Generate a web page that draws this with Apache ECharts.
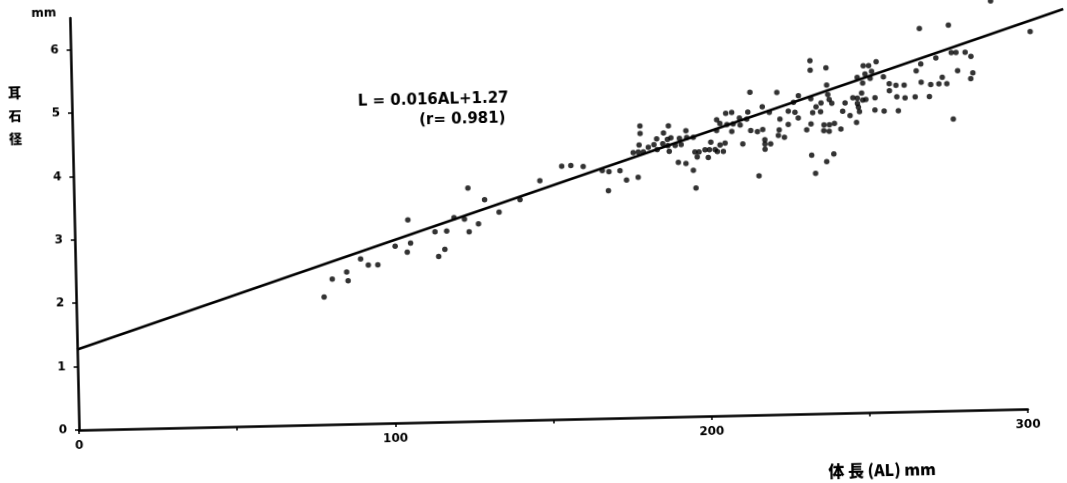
<!DOCTYPE html>
<html>
<head>
<meta charset="utf-8">
<script src="https://cdn.jsdelivr.net/npm/echarts@6/dist/echarts.min.js"></script>
<style>
  html, body { margin: 0; padding: 0; background: #fff; overflow: hidden; width: 1067px; height: 483px; }
  /* the printed figure sits slightly askew on the page */
  #chart { position: absolute; left: 0; top: 0; width: 1110px; height: 500px;
           transform: rotate(-1.27deg); transform-origin: 79px 430px; }
</style>
</head>
<body>
<div id="chart"></div>
<script>
// Body length AL (mm) of each fish
const bodyLength = [
  78.4, 81.1, 85.7, 86.1, 90.2, 92.6, 95.6, 101.2, 105.4, 105.0,
  106.1, 113.9, 114.9, 116.9, 117.6, 120.0, 123.3, 124.6, 124.7, 127.7,
  129.8, 134.3, 141.0, 147.4, 154.4, 157.3, 161.2, 167.2, 169.3, 172.8,
  169.0, 174.8, 178.5, 177.1, 178.7, 180.3, 179.4, 179.4, 179.0, 181.9,
  183.7, 184.6, 184.7, 186.5, 186.8, 188.4, 188.0, 189.1, 188.1, 190.4,
  188.5, 191.8, 192.3, 193.9, 194.1, 196.2, 191.3, 193.7, 196.0, 196.7,
  196.6, 197.9, 197.3, 199.8, 201.2, 200.8, 203.0, 203.7, 205.6, 204.6,
  206.2, 201.7, 203.6, 203.7, 204.7, 206.6, 208.5, 206.9, 208.9, 210.9,
  213.6, 213.2, 211.1, 211.8, 208.4, 233.6, 233.6, 238.6, 238.7, 214.4,
  222.9, 229.7, 228.1, 233.6, 239.0, 239.4, 218.2, 220.4, 226.4, 228.5,
  223.7, 229.5, 234.1, 236.6, 235.2, 236.8, 240.2, 226.3, 233.5, 232.1,
  237.6, 239.3, 240.9, 237.5, 239.2, 242.9, 214.4, 216.5, 218.2, 223.4,
  223.1, 225.0, 218.8, 218.8, 218.8, 220.6, 233.5, 240.5, 238.2, 216.7,
  234.6, 245.9, 243.6, 244.4, 246.9, 248.3, 248.3, 248.6, 248.9, 247.9,
  250.0, 251.0, 253.9, 253.8, 256.7, 249.7, 250.1, 248.4, 250.9, 252.5,
  253.0, 250.4, 252.1, 254.5, 256.7, 268.4, 277.6, 278.3, 279.8, 282.7,
  284.5, 273.4, 268.6, 267.1, 258.5, 260.6, 263.2, 258.5, 260.8, 263.4,
  266.6, 271.1, 268.6, 271.6, 274.2, 275.3, 276.7, 280.2, 285.0, 284.3,
  261.2, 278.5, 291.1, 303.4
];

// Otolith diameter L (mm) of the same fish
const otolithDiameter = [
  2.01, 2.29, 2.40, 2.26, 2.60, 2.50, 2.50, 2.79, 3.20, 2.69,
  2.83, 3.00, 2.61, 2.72, 3.01, 3.22, 3.19, 3.68, 2.99, 3.11,
  3.49, 3.29, 3.48, 3.77, 3.99, 4.00, 3.98, 3.91, 3.89, 3.90,
  3.59, 3.75, 3.79, 4.18, 4.19, 4.19, 4.60, 4.48, 4.30, 4.26,
  4.30, 4.39, 4.22, 4.31, 4.48, 4.59, 4.38, 4.40, 4.28, 4.28,
  4.19, 4.39, 4.29, 4.51, 4.40, 4.40, 4.01, 3.99, 3.88, 3.60,
  4.17, 4.17, 4.09, 4.20, 4.20, 4.08, 4.20, 4.17, 4.17, 4.27,
  4.30, 4.32, 4.50, 4.67, 4.61, 4.77, 4.78, 4.59, 4.60, 4.69,
  4.78, 4.67, 4.58, 4.28, 4.48, 5.57, 5.42, 5.45, 5.18, 5.09,
  5.08, 5.02, 4.92, 4.97, 5.03, 4.95, 4.86, 4.77, 4.78, 4.76,
  4.66, 4.67, 4.75, 4.76, 4.84, 4.90, 4.89, 4.57, 4.57, 4.48,
  4.55, 4.55, 4.57, 4.46, 4.45, 4.48, 4.49, 4.47, 4.50, 4.49,
  4.40, 4.37, 4.34, 4.27, 4.19, 4.27, 4.08, 4.09, 3.97, 3.77,
  3.79, 4.69, 4.76, 4.89, 4.97, 4.96, 4.88, 4.82, 4.75, 4.58,
  4.93, 4.94, 4.96, 4.77, 4.75, 5.04, 5.20, 5.29, 5.34, 5.27,
  5.38, 5.47, 5.47, 5.53, 5.29, 6.04, 6.08, 5.65, 5.65, 5.65,
  5.58, 5.57, 5.48, 5.37, 5.18, 5.15, 5.15, 5.07, 4.97, 4.95,
  4.96, 4.96, 5.19, 5.15, 5.16, 5.26, 5.16, 5.36, 5.32, 5.23,
  4.75, 4.60, 6.45, 5.95
];

// Axis ticks and labels
const xTickValues = [0, 50, 100, 150, 200, 250, 300];
const xLabelValues = [0, 100, 200, 300];
const yTickValues = [0, 1, 2, 3, 4, 5, 6];

// Regression L = a·AL + b and its correlation coefficient
const slope = 0.016;
const intercept = 1.27;
const correlation = 0.981;
const fitRange = [0, 314];

const points = bodyLength.map((x, i) => [x, otolithDiameter[i]]);
// one segment: [x0, y0, x1, y1] of the fitted line, drawn past the axis end
const fitSegment = [[fitRange[0], slope * fitRange[0] + intercept,
                     fitRange[1], slope * fitRange[1] + intercept]];

const labelFont = 'DejaVu Sans';
const cjkFont = '"Noto Sans CJK JP", "Noto Sans CJK SC", sans-serif';

const chart = echarts.init(document.getElementById('chart'), null, { renderer: 'canvas' });
chart.setOption({
  animation: false,
  backgroundColor: '#fff',
  grid: { left: 79, right: 82, top: 18, bottom: 70, containLabel: false },
  xAxis: {
    type: 'value', min: 0, max: 300, interval: 50,
    splitLine: { show: false },
    axisLine: { lineStyle: { color: '#000', width: 2.5 } },
    axisTick: { show: true, length: 4, lineStyle: { color: '#000', width: 1.5 },
                customValues: xTickValues },
    axisLabel: { customValues: xLabelValues, margin: 10, color: '#000',
                 fontFamily: labelFont, fontWeight: 'bold', fontSize: 12 }
  },
  yAxis: {
    type: 'value', min: 0, max: 6.5, interval: 1,
    splitLine: { show: false },
    axisLine: { lineStyle: { color: '#000', width: 2.5 } },
    axisTick: { show: true, length: 4, lineStyle: { color: '#000', width: 1.5 },
                customValues: yTickValues },
    axisLabel: { customValues: yTickValues, margin: 12, color: '#000',
                 fontFamily: labelFont, fontWeight: 'bold', fontSize: 12 }
  },
  series: [
    {
      type: 'custom', data: fitSegment, clip: false, silent: true, z: 2,
      encode: { x: [0, 2], y: [1, 3] },
      renderItem: function (params, api) {
        const p0 = api.coord([api.value(0), api.value(1)]);
        const p1 = api.coord([api.value(2), api.value(3)]);
        return {
          type: 'line',
          shape: { x1: p0[0], y1: p0[1], x2: p1[0], y2: p1[1] },
          style: { stroke: '#000', lineWidth: 2.5 }
        };
      }
    },
    {
      type: 'scatter', data: points, symbol: 'circle', symbolSize: 5.5, clip: false,
      itemStyle: { color: '#000' }, z: 3
    }
  ],
  graphic: [
    { type: 'text', x: 53, y: 13,
      style: { text: 'mm', fill: '#000', font: 'bold 12px ' + labelFont,
               align: 'center', verticalAlign: 'middle' } },
    { type: 'text', x: 22, y: 114,
      style: { text: '耳\n石\n径', fill: '#000', font: '900 13px ' + cjkFont,
               lineHeight: 23, align: 'center', verticalAlign: 'middle' } },
    { type: 'text', x: 881, y: 488,
      style: { text: '体 長 (AL) mm', fill: '#000', font: '900 16px ' + cjkFont,
               align: 'center', verticalAlign: 'middle' } },
    { type: 'text', x: 365, y: 108,
      style: { text: 'L = ' + slope + 'AL+' + intercept, fill: '#000',
               font: 'bold 15px ' + labelFont, align: 'left', verticalAlign: 'middle' } },
    { type: 'text', x: 426, y: 128.5,
      style: { text: '(r= ' + correlation + ')', fill: '#000',
               font: 'bold 15px ' + labelFont, align: 'left', verticalAlign: 'middle' } }
  ]
});
</script>
</body>
</html>
